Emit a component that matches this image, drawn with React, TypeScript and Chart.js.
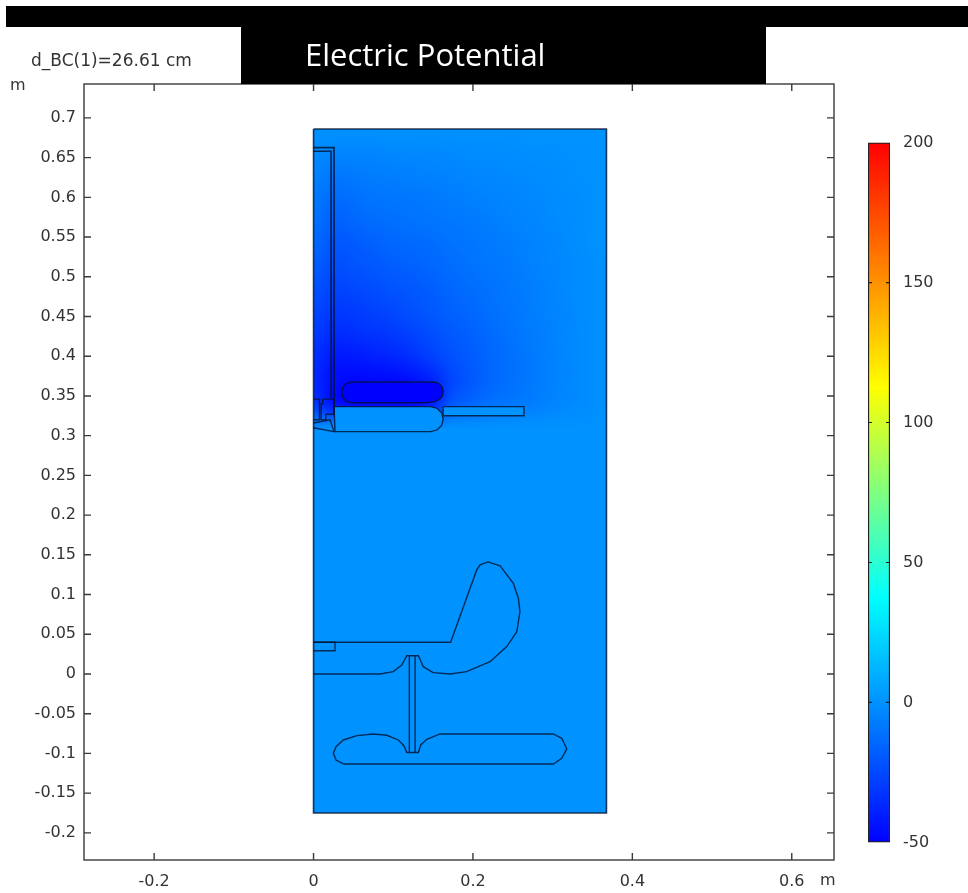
import React, { useEffect, useRef } from "react";
import { Chart, registerables } from "chart.js";

Chart.register(...registerables);

type Pt = [number, number];

const xTicks = [-0.2, 0, 0.2, 0.4, 0.6];
const yTicks = [0.7, 0.65, 0.6, 0.55, 0.5, 0.45, 0.4, 0.35, 0.3, 0.25, 0.2, 0.15, 0.1, 0.05, 0, -0.05, -0.1, -0.15, -0.2];
const colorTicks = [-50, 0, 50, 100, 150, 200];
const sliderLabel = "d_BC(1)=26.61 cm";
const titleText = "Electric Potential";

const fieldXs = [0, 0.0245, 0.049, 0.0735, 0.098, 0.1227, 0.147, 0.172, 0.196, 0.22, 0.245, 0.27, 0.294, 0.319, 0.343, 0.3675];
const fieldYs = [0.686, 0.657, 0.628, 0.599, 0.57, 0.541, 0.512, 0.483, 0.454, 0.425, 0.396, 0.367, 0.338, 0.31];
const fieldValues = [
  [0, 0, 0, 0, 0, 0, 0, 0, 0, 0, 0, 0, 0, 0, 0, 0],
  [-2, -4, -4, -4, -3.5, -3, -3, -2.5, -2, -2, -1.5, -1, -1, -0.5, -0.5, 0],
  [-5, -9, -8, -7, -6.5, -6, -5.5, -5, -4, -3.5, -3, -2.5, -2, -1, -0.5, 0],
  [-8, -13, -12, -10, -9.5, -9, -8, -7, -6, -5, -4, -3.5, -2.5, -1.5, -1, 0],
  [-11, -17, -15, -13, -12, -11, -10, -9, -8, -7, -5.5, -4.5, -3, -2, -1, 0],
  [-14, -20, -19, -17, -15, -14, -13, -11, -10, -8, -7, -5.5, -4, -2.5, -1, 0],
  [-18, -24, -22, -20, -18, -17, -15, -13, -11, -9.5, -8, -6, -4.5, -3, -1.5, 0],
  [-22, -27, -26, -24, -22, -20, -18, -15, -13, -11, -9, -7, -5, -3, -1.5, 0],
  [-26, -31, -30, -28, -26, -23, -20, -17, -15, -12, -10, -7.5, -5.5, -3.5, -1.5, 0],
  [-30, -36, -35, -33, -31, -28, -24, -20, -17, -14, -11, -8, -6, -3.5, -2, 0],
  [-34, -42, -42, -40, -38, -35, -29, -23, -19, -15, -12, -9, -6, -4, -2, 0],
  [-36, -46, -48, -48, -48, -46, -40, -27, -20, -15, -12, -9, -6, -4, -2, 0],
  [-30, -44, -50, -50, -50, -50, -42, -20, -15, -11, -9, -7, -5, -3, -2, 0],
  [0, 0, 0, 0, 0, 0, 0, 0, 0, 0, 0, 0, 0, 0, 0, 0],
];

const domainOutline: Pt[] = [[0, 0.686], [0.3675, 0.686], [0.3675, -0.175], [0, -0.175], [0, 0.686]];
const columnOuter: Pt[] = [[0, 0.6625], [0.0257, 0.6625], [0.0257, 0.3285]];
const columnInner: Pt[] = [[0, 0.658], [0.022, 0.658], [0.022, 0.347]];
const upperElectrode: Pt[] = [
  [0.0474, 0.3675], [0.1509, 0.3675], [0.1569, 0.3659], [0.1613, 0.3615], [0.1629, 0.3555], [0.1618, 0.35], [0.158, 0.3455], [0.152, 0.3428], [0.14, 0.3415],
  [0.0474, 0.3415], [0.0414, 0.3431], [0.037, 0.3475], [0.0354, 0.3535], [0.0354, 0.3555], [0.037, 0.3615], [0.0414, 0.3659], [0.0474, 0.3675],
];
const lowerElectrode: Pt[] = [
  [0.0257, 0.3365], [0.147, 0.3365], [0.1549, 0.3344], [0.1606, 0.3287], [0.1627, 0.3208], [0.1606, 0.3129], [0.1549, 0.3072], [0.147, 0.3051],
  [0.027, 0.3051], [0.0257, 0.3365],
];
const thinPlate: Pt[] = [[0.1625, 0.3365], [0.264, 0.3365], [0.264, 0.325], [0.1625, 0.325], [0.1625, 0.3365]];
const leftBox: Pt[] = [[0, 0.346], [0.0075, 0.346], [0.0075, 0.32], [0, 0.32]];
const stemBox: Pt[] = [[0.0115, 0.346], [0.0257, 0.346], [0.0257, 0.327], [0.0155, 0.327], [0.0155, 0.32], [0.0095, 0.32], [0.0095, 0.34], [0.0115, 0.34], [0.0115, 0.346]];
const stepBase: Pt[] = [[0, 0.316], [0.0207, 0.32], [0.025, 0.307], [0.0257, 0.3051], [0, 0.31]];
const smallRect: Pt[] = [[0, 0.0399], [0.027, 0.0399], [0.027, 0.0293], [0, 0.0293]];
const upperConductor: Pt[] = [
  [0, 0.04], [0.172, 0.04], [0.2047, 0.131], [0.209, 0.1375], [0.219, 0.141], [0.234, 0.136], [0.2507, 0.114], [0.257, 0.095], [0.259, 0.0785], [0.255, 0.0533],
  [0.2424, 0.0344], [0.2215, 0.0155], [0.192, 0.003], [0.1713, 0], [0.15, 0.0017], [0.1377, 0.0092], [0.1315, 0.023], [0.117, 0.023], [0.1107, 0.0113],
  [0.1, 0.003], [0.0834, 0], [0, 0],
];
const stemLeft: Pt[] = [[0.1202, 0.023], [0.1202, -0.0988]];
const stemRight: Pt[] = [[0.1274, 0.023], [0.1274, -0.0988]];
const lowerConductor: Pt[] = [
  [0.0374, -0.1133], [0.0282, -0.1083], [0.0249, -0.0999], [0.0282, -0.0915], [0.0374, -0.0831], [0.0542, -0.0776], [0.0751, -0.0755], [0.0918, -0.0772],
  [0.1064, -0.0831], [0.1136, -0.0906], [0.1169, -0.0988], [0.1315, -0.0988], [0.1345, -0.0894], [0.142, -0.0822], [0.1587, -0.0755], [0.3009, -0.0755],
  [0.3114, -0.081], [0.3177, -0.0944], [0.3114, -0.1062], [0.3009, -0.1133], [0.0374, -0.1133],
];

const colorStops: [number, number[]][] = [
  [0, [0, 0, 255]],
  [0.35, [0, 255, 255]],
  [0.65, [255, 255, 0]],
  [1, [255, 0, 0]],
];
const potentialMin = -50;
const potentialMax = 200;

function colormap(v: number): number[] {
  const t = Math.min(1, Math.max(0, (v - potentialMin) / (potentialMax - potentialMin)));
  for (let i = 1; i < colorStops.length; i++) {
    const [t1, c1] = colorStops[i];
    const [t0, c0] = colorStops[i - 1];
    if (t <= t1) {
      const f = (t - t0) / (t1 - t0);
      return c0.map((c, k) => Math.round(c + (c1[k] - c) * f));
    }
  }
  return colorStops[colorStops.length - 1][1];
}
const css = (v: number) => `rgb(${colormap(v).join(",")})`;

const LINE = "rgba(0,20,50,0.82)";
const TEXT = "#333333";
const FONT = "'DejaVu Sans'";

const toXY = (p: Pt[]) => p.map(([x, y]) => ({ x, y }));
const outline = (data: Pt[], fillValue?: number, width = 1.4) => ({
  data: toXY(data),
  showLine: true,
  pointRadius: 0,
  borderColor: LINE,
  borderWidth: width,
  tension: 0,
  fill: fillValue === undefined ? false : "shape",
  backgroundColor: fillValue === undefined ? "transparent" : css(fillValue),
});

const fieldPlugin = {
  id: "field",
  afterDatasetDraw(chart: any, args: any) {
    if (args.index !== chart.data.datasets.length - 1) return;
    const h = fieldYs.length;
    const w = fieldXs.length;
    const off = document.createElement("canvas");
    off.width = w;
    off.height = h;
    const octx = off.getContext("2d")!;
    const img = octx.createImageData(w, h);
    fieldValues.forEach((row, j) =>
      row.forEach((v, i) => {
        const c = colormap(v);
        img.data.set([c[0], c[1], c[2], 255], (j * w + i) * 4);
      })
    );
    octx.putImageData(img, 0, 0);
    const { x, y } = chart.scales;
    const x0 = x.getPixelForValue(fieldXs[0]);
    const x1 = x.getPixelForValue(fieldXs[w - 1]);
    const y0 = y.getPixelForValue(fieldYs[0]);
    const y1 = y.getPixelForValue(fieldYs[h - 1]);
    const ctx = chart.ctx;
    ctx.save();
    ctx.imageSmoothingEnabled = true;
    ctx.imageSmoothingQuality = "high";
    ctx.drawImage(off, 0.5, 0.5, w - 1, h - 1, x0, y0, x1 - x0, y1 - y0);
    ctx.restore();
  },
};

const framePlugin = {
  id: "frame",
  afterDraw(chart: any) {
    const { ctx, chartArea: a, scales } = chart;
    const len = 7;
    ctx.save();
    ctx.strokeStyle = "#3a3a3a";
    ctx.lineWidth = 1.4;
    ctx.strokeRect(a.left, a.top, a.right - a.left, a.bottom - a.top);
    ctx.beginPath();
    for (const t of scales.x.ticks) {
      const p = scales.x.getPixelForValue(t.value);
      ctx.moveTo(p, a.bottom);
      ctx.lineTo(p, a.bottom - len);
      ctx.moveTo(p, a.top);
      ctx.lineTo(p, a.top + len);
    }
    for (const t of scales.y.ticks) {
      const p = scales.y.getPixelForValue(t.value);
      ctx.moveTo(a.left, p);
      ctx.lineTo(a.left + len, p);
      ctx.moveTo(a.right, p);
      ctx.lineTo(a.right - len, p);
    }
    ctx.stroke();
    ctx.restore();
  },
};

const colorTickPlugin = {
  id: "colorTicks",
  afterDraw(chart: any) {
    const { ctx, chartArea: a, scales } = chart;
    ctx.save();
    ctx.strokeStyle = "#222";
    ctx.lineWidth = 1.2;
    ctx.beginPath();
    for (const t of scales.y.ticks) {
      if (t.value === potentialMin || t.value === potentialMax) continue;
      const p = scales.y.getPixelForValue(t.value);
      ctx.moveTo(a.left, p);
      ctx.lineTo(a.left + 4, p);
      ctx.moveTo(a.right, p);
      ctx.lineTo(a.right - 4, p);
    }
    ctx.stroke();
    ctx.restore();
  },
};

const Label = ({ left, top, children, style }: any) => (
  <div style={{ position: "absolute", left, top, fontFamily: FONT, fontSize: 16, color: TEXT, whiteSpace: "nowrap", lineHeight: 1, ...style }}>{children}</div>
);

export default function App() {
  const mainRef = useRef<HTMLCanvasElement>(null);
  const barRef = useRef<HTMLCanvasElement>(null);

  useEffect(() => {
    const main = new Chart(mainRef.current!, {
      type: "scatter",
      data: {
        datasets: [
          outline(domainOutline, undefined, 1.6),
          outline(columnOuter, undefined, 1.8),
          outline(columnInner, undefined, 1.6),
          outline(leftBox),
          outline(stemBox),
          outline(stepBase),
          outline(thinPlate, 0),
          outline(lowerElectrode, 0),
          outline(upperElectrode, -50),
          outline(smallRect),
          outline(stemLeft),
          outline(stemRight),
          outline(upperConductor),
          outline(lowerConductor),
          { ...outline(domainOutline, 0, 0), borderColor: "transparent" },
        ] as any,
      },
      options: {
        animation: false,
        responsive: false,
        layout: { padding: { top: 84, right: 134, left: 0, bottom: 0 } },
        plugins: { legend: { display: false }, tooltip: { enabled: false } },
        scales: {
          x: {
            type: "linear",
            min: -0.288,
            max: 0.653,
            grid: { display: false, drawTicks: false },
            border: { display: false },
            afterBuildTicks: (s: any) => { s.ticks = xTicks.map((value) => ({ value })); },
            afterFit: (s: any) => { s.height = 33; },
            ticks: { autoSkip: false, maxRotation: 0, color: TEXT, font: { family: FONT, size: 16 }, padding: 12, callback: (v: any) => String(v) },
          },
          y: {
            type: "linear",
            min: -0.2342,
            max: 0.7427,
            grid: { display: false, drawTicks: false },
            border: { display: false },
            afterBuildTicks: (s: any) => { s.ticks = yTicks.map((value) => ({ value })); },
            afterFit: (s: any) => { s.width = 84; },
            ticks: { autoSkip: false, color: TEXT, font: { family: FONT, size: 16 }, padding: 8, callback: (v: any) => String(v) },
          },
        },
      },
      plugins: [fieldPlugin, framePlugin],
    } as any);

    const bar = new Chart(barRef.current!, {
      type: "bar",
      data: {
        labels: ["V"],
        datasets: [
          {
            data: [[potentialMin, potentialMax]],
            barPercentage: 1,
            categoryPercentage: 1,
            borderColor: "#222",
            borderWidth: 1.5,
            borderSkipped: false,
            backgroundColor: (c: any) => {
              const { chart } = c;
              const a = chart.chartArea;
              if (!a || !Number.isFinite(a.top) || !Number.isFinite(a.bottom)) return "blue";
              const g = chart.ctx.createLinearGradient(0, a.bottom, 0, a.top);
              colorStops.forEach(([t, col]) => g.addColorStop(t, `rgb(${col.join(",")})`));
              return g;
            },
          },
        ] as any,
      },
      options: {
        animation: false,
        responsive: false,
        layout: { padding: { top: 12, bottom: 14, left: 8, right: 0 } },
        plugins: { legend: { display: false }, tooltip: { enabled: false } },
        scales: {
          x: { display: false },
          y: {
            position: "right",
            min: potentialMin,
            max: potentialMax,
            grid: { display: false, drawTicks: false },
            border: { display: false },
            afterBuildTicks: (s: any) => { s.ticks = colorTicks.map((value) => ({ value })); },
            afterFit: (s: any) => { s.width = 78; },
            ticks: { color: TEXT, font: { family: FONT, size: 16 }, padding: 13, callback: (v: any) => String(v) },
          },
        },
      },
      plugins: [colorTickPlugin],
    } as any);

    return () => {
      main.destroy();
      bar.destroy();
    };
  }, []);

  return (
    <div style={{ position: "absolute", left: 0, top: 0, width: 968, height: 893, overflow: "hidden", background: "#fff" }}>
      <canvas ref={mainRef} width={968} height={893} style={{ position: "absolute", left: 0, top: 0, width: 968, height: 893 }} />
      <canvas ref={barRef} width={108} height={745} style={{ position: "absolute", left: 860, top: 120, width: 108, height: 745 }} />
      <div style={{ position: "absolute", left: 6, top: 6, width: 962, height: 21, background: "#000" }} />
      <div style={{ position: "absolute", left: 241, top: 27, width: 525, height: 57, background: "#000" }} />
      <div style={{ position: "absolute", left: 305, top: 32, color: "#fff", fontFamily: "'Open Sans'", fontSize: 31, lineHeight: "44px", whiteSpace: "nowrap" }}>{titleText}</div>
      <Label left={31} top={52} style={{ fontSize: 17 }}>{sliderLabel}</Label>
      <Label left={10} top={77}>m</Label>
      <Label left={820} top={872}>m</Label>
    </div>
  );
}
